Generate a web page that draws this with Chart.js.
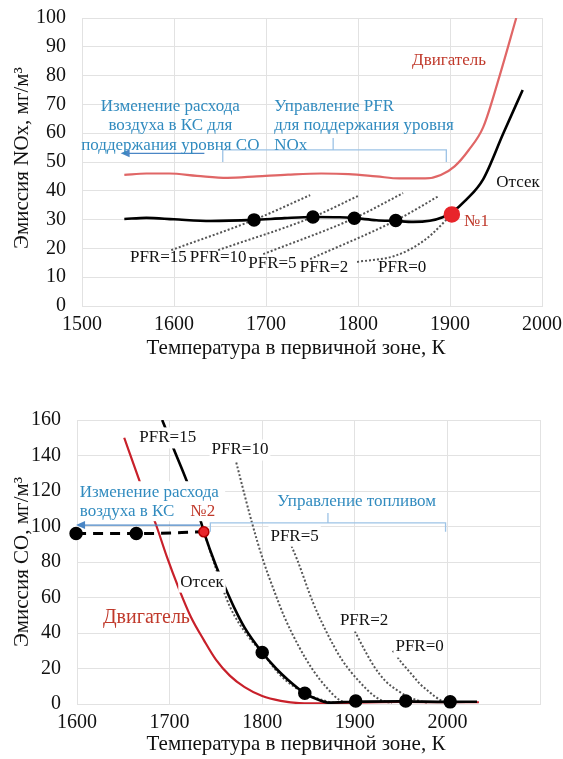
<!DOCTYPE html>
<html><head><meta charset="utf-8">
<script src="https://cdn.jsdelivr.net/npm/chart.js@4/dist/chart.umd.min.js"></script>
<style>
html,body{margin:0;padding:0;background:#fff;}
#wrap{position:relative;width:563px;height:759px;overflow:hidden;}
canvas{position:absolute;left:0;}
</style></head><body>
<div id="wrap">
<canvas id="c1" width="563" height="372" style="top:0"></canvas>
<canvas id="c2" width="563" height="387" style="top:372px"></canvas>
</div>
<script>
// ---------- DATA: top chart (NOx) ----------
const noxXTicks = [1500, 1600, 1700, 1800, 1900, 2000];
const noxYTicks = [0, 10, 20, 30, 40, 50, 60, 70, 80, 90, 100];
const noxEngine = [[1546,45.5],[1570,46],[1595,46],[1625,45.2],[1658,44.5],[1690,45],[1724,45.6],[1760,46],[1790,45.8],[1820,45],[1845,44.3],[1873,44.3],[1890,45.5],[1905,48.5],[1920,54],[1936,62],[1954,80],[1972,100]];
const noxSection = [[1546,30.2],[1570,30.6],[1600,30.1],[1640,29.5],[1687,29.9],[1720,30.5],[1751,30.9],[1780,30.8],[1796,30.5],[1820,29.8],[1841,29.5],[1860,29.2],[1878,29.6],[1892,30.8],[1902,32.5],[1918,37],[1936,44],[1958,60],[1979,75]];
const noxDots = [[1687,29.9],[1751,30.9],[1796,30.5],[1841,29.7]];
const noxPoint1 = [[1902,31.8]];
const noxPfr15 = [[1597,19.4],[1687,29.9],[1748,38.5]];
const noxPfr10 = [[1648,19.4],[1751,30.9],[1800,38.2]];
const noxPfr5 = [[1697,18],[1796,30.5],[1849,39.2]];
const noxPfr2 = [[1748,16.3],[1841,29.7],[1888,38.2]];
const noxPfr0 = [[1799,15.3],[1841,17.5],[1873,23],[1902,31.8]];

// ---------- DATA: bottom chart (CO) ----------
const coXTicks = [1600, 1700, 1800, 1900, 2000];
const coYTicks = [0, 20, 40, 60, 80, 100, 120, 140, 160];
const coEngine = [[1651,150],[1668,125],[1686,100],[1697,83],[1710,65],[1723,49],[1737,36],[1750,25],[1765,16],[1781,9.5],[1800,4.5],[1820,1.8],[1840,0.5],[1870,0.3],[1900,0.8],[1950,1.2],[2000,1],[2034,1]];
const coSection = [[1692,160],[1705,143],[1719,125],[1733,104],[1737,97],[1750,78],[1758,68],[1770,54],[1781,43],[1800,29],[1815,20],[1828,13.5],[1846,6],[1860,2.5],[1871,0.8],[1900,1.3],[1950,1.5],[2000,1.2],[2032,1.3]];
const coDots = [[1599,96],[1664,96],[1800,29],[1846,6],[1901,1.7],[1955,1.7],[2003,1.2]];
const coPoint2 = [[1737,97]];
const coDashed = [[1599,96],[1664,96],[1737,97]];
const coPfr15 = [[1737,97],[1747,81],[1765,55],[1785,38],[1800,29],[1820,16],[1846,6],[1870,1.5],[1880,0.5]];
const coPfr10 = [[1772,136],[1789,102],[1801,81],[1812,65],[1824,49],[1840,32],[1855,19],[1870,9],[1884,2],[1895,0.5]];
const coPfr5 = [[1830,91],[1838,81],[1855,57],[1870,40],[1886,25],[1906,12],[1920,5],[1929,2],[1940,0.5]];
const coPfr2 = [[1900,41],[1910,31],[1921,21],[1933,13],[1945,8],[1958,4],[1968,2],[1978,0.7]];
const coPfr0 = [[1941,30],[1951,23],[1961,17],[1970,11.5],[1980,7],[1993,2],[2000,0.8]];

// ---------- helpers ----------
const FONT = 'Liberation Serif';
const BLUE = '#318bbf';
const GRID = '#e2e2e2';
const pts = a => a.map(p => ({x: p[0], y: p[1]}));

function lineDs(data, color, width, dash, order) {
  return {data: pts(data), borderColor: color, borderWidth: width, borderDash: dash || [],
    pointRadius: 0, cubicInterpolationMode: 'monotone', fill: false, order: order || 5, showLine: true};
}
function dotDs(data, color, radius, border) {
  return {data: pts(data), showLine: false, pointRadius: radius, pointHoverRadius: radius, clip: false,
    pointBackgroundColor: color, pointBorderColor: border || color, pointBorderWidth: 1.5, order: 0};
}

function annotPlugin(cfg) {
  return {
    id: 'annot' + cfg.name,
    afterDatasetsDraw(chart) {
      const ctx = chart.ctx, xs = chart.scales.x, ys = chart.scales.y;
      const px = v => xs.getPixelForValue(v), py = v => ys.getPixelForValue(v);
      ctx.save();
      (cfg.boxes || []).forEach(b => {
        ctx.fillStyle = '#fff';
        ctx.fillRect(px(b[0]), py(b[2]), px(b[1]) - px(b[0]), py(b[3]) - py(b[2]));
      });
      (cfg.brackets || []).forEach(b => {
        ctx.strokeStyle = '#9dc3e6'; ctx.lineWidth = 1.3;
        ctx.beginPath();
        ctx.moveTo(px(b.x0), py(b.yEnd)); ctx.lineTo(px(b.x0), py(b.y));
        ctx.lineTo(px(b.x1), py(b.y)); ctx.lineTo(px(b.x1), py(b.yEnd));
        ctx.moveTo(px(b.xm), py(b.y)); ctx.lineTo(px(b.xm), py(b.yTip));
        ctx.stroke();
      });
      (cfg.arrows || []).forEach(a => {
        const x1 = px(a.x1), x2 = px(a.x2), y = py(a.y);
        ctx.strokeStyle = '#4a86c5'; ctx.fillStyle = '#4a86c5'; ctx.lineWidth = 1.3;
        ctx.beginPath(); ctx.moveTo(x1, y); ctx.lineTo(x2 + 6, y); ctx.stroke();
        ctx.beginPath(); ctx.moveTo(x2, y); ctx.lineTo(x2 + 9, y - 4); ctx.lineTo(x2 + 9, y + 4); ctx.closePath(); ctx.fill();
      });
      (cfg.texts || []).forEach(t => {
        ctx.font = t.size + 'px "' + FONT + '"';
        ctx.textAlign = t.align || 'center'; ctx.textBaseline = 'middle';
        const x = px(t.x), y = py(t.y);
        if (t.bg) {
          const w = ctx.measureText(t.text).width;
          const lx = (t.align === 'left') ? x : x - w / 2;
          ctx.fillStyle = '#fff';
          ctx.fillRect(lx - 2, y - t.size * 0.62, w + 4, t.size * 1.24);
        }
        ctx.fillStyle = t.color || '#000';
        ctx.fillText(t.text, x, y);
      });
      ctx.restore();
    },
    afterDraw(chart) {
      const ctx = chart.ctx;
      ctx.save();
      ctx.fillStyle = '#111';
      ctx.font = '21px "' + FONT + '"';
      ctx.textAlign = 'center'; ctx.textBaseline = 'middle';
      ctx.fillText(cfg.xTitle, cfg.xTitlePos[0], cfg.xTitlePos[1]);
      ctx.translate(cfg.yTitlePos[0], cfg.yTitlePos[1]);
      ctx.rotate(-Math.PI / 2);
      ctx.fillText(cfg.yTitle, 0, 0);
      ctx.restore();
    }
  };
}

function makeChart(id, H, area, xr, yr, xTicks, yTicks, datasets, plugin) {
  const tickFont = {family: FONT, size: 20, lineHeight: 1.1};
  const adj = {w: area.left, h: H - area.bottom};
  const opts = {
    responsive: false, animation: false, devicePixelRatio: 1,
    layout: {padding: {left: 0, top: area.top, right: 563 - area.right, bottom: 0}},
    plugins: {legend: {display: false}, tooltip: {enabled: false}},
    scales: {
      x: {type: 'linear', min: xr[0], max: xr[1],
        afterBuildTicks: s => { s.ticks = xTicks.concat([xr[1]]).filter((v,i,a)=>a.indexOf(v)===i).map(v => ({value: v})); },
        ticks: {font: tickFont, color: '#111', padding: 0, maxRotation: 0, autoSkip: false,
          callback: v => (xTicks.indexOf(v) >= 0 ? String(v) : '')},
        grid: {color: GRID, drawTicks: true, tickLength: 8, tickColor: 'rgba(0,0,0,0)', lineWidth: 1},
        border: {display: true, color: GRID},
        afterFit: s => { s.height = adj.h; }
      },
      y: {min: yr[0], max: yr[1],
        afterBuildTicks: s => { s.ticks = yTicks.map(v => ({value: v})); },
        ticks: {font: tickFont, color: '#111', padding: 0, autoSkip: false, callback: v => String(v)},
        grid: {color: GRID, drawTicks: true, tickLength: 16, tickColor: 'rgba(0,0,0,0)', lineWidth: 1},
        border: {display: true, color: GRID},
        afterFit: s => { s.width = adj.w; }
      }
    }
  };
  const ch = new Chart(document.getElementById(id), {type: 'line', data: {datasets}, options: opts, plugins: [plugin]});
  // pin the plot area to the measured reference geometry
  for (let k = 0; k < 3; k++) {
    const ca = ch.chartArea;
    opts.layout.padding.top += area.top - ca.top;
    opts.layout.padding.right += ca.right - area.right;
    adj.w += area.left - ca.left;
    adj.h += ca.bottom - area.bottom;
    ch.update();
  }
  return ch;
}

// ---------- top chart ----------
const DOT = '#555555';
makeChart('c1', 372, {left: 82, right: 542, top: 18, bottom: 306}, [1500, 2000], [0, 100], noxXTicks, noxYTicks, [
  dotDs(noxPoint1, '#e8252b', 7.5),
  dotDs(noxDots, '#000', 6),
  lineDs(noxSection, '#000', 2.6, [], 2),
  lineDs(noxEngine, '#e06666', 2.2, [], 3),
  lineDs(noxPfr15, DOT, 2, [2, 2], 4),
  lineDs(noxPfr10, DOT, 2, [2, 2], 4),
  lineDs(noxPfr5, DOT, 2, [2, 2], 4),
  lineDs(noxPfr2, DOT, 2, [2, 2], 4),
  lineDs(noxPfr0, DOT, 2, [2, 2], 4)
], annotPlugin({
  name: 'top',
  xTitle: 'Температура в первичной зоне, К', xTitlePos: [296, 348],
  yTitle: 'Эмиссия NOx, мг/м³', yTitlePos: [22, 158],
  brackets: [{x0: 1653, x1: 1896, xm: 1773, y: 54.2, yEnd: 50, yTip: 58.3}],
  arrows: [{x1: 1633, x2: 1542, y: 53}],
  texts: [
    {text: 'Изменение расхода', x: 1596, y: 69.4, size: 17, color: BLUE},
    {text: 'воздуха в КС для', x: 1596, y: 62.6, size: 17, color: BLUE},
    {text: 'поддержания уровня СО', x: 1596, y: 55.8, size: 17, color: BLUE},
    {text: 'Управление PFR', x: 1709, y: 69.4, size: 17, color: BLUE, align: 'left'},
    {text: 'для поддержания уровня', x: 1709, y: 62.6, size: 17, color: BLUE, align: 'left'},
    {text: 'NOx', x: 1709, y: 55.8, size: 17, color: BLUE, align: 'left'},
    {text: 'Двигатель', x: 1899, y: 85.4, size: 17, color: '#c0392b'},
    {text: 'Отсек', x: 1974, y: 43, size: 17, color: '#111'},
    {text: '№1', x: 1929, y: 29.2, size: 17, color: '#c0392b'},
    {text: 'PFR=15', x: 1583, y: 16.7, size: 17, color: '#111'},
    {text: 'PFR=10', x: 1648, y: 16.7, size: 17, color: '#111'},
    {text: 'PFR=5', x: 1707, y: 14.9, size: 17, color: '#111'},
    {text: 'PFR=2', x: 1763, y: 13.2, size: 17, color: '#111'},
    {text: 'PFR=0', x: 1848, y: 13.2, size: 17, color: '#111'}
  ]
}));

// ---------- bottom chart ----------
makeChart('c2', 387, {left: 77, right: 540, top: 48, bottom: 332}, [1600, 2100], [0, 160], coXTicks, coYTicks, [
  dotDs(coPoint2, '#e8252b', 5, '#b00000'),
  dotDs(coDots, '#000', 6),
  lineDs(coDashed, '#000', 3, [10, 7], 1),
  lineDs(coSection, '#000', 2.6, [], 2),
  lineDs(coEngine, '#c8202a', 2.2, [], 3),
  lineDs(coPfr15, DOT, 2, [2, 2], 4),
  lineDs(coPfr10, DOT, 2, [2, 2], 4),
  lineDs(coPfr5, DOT, 2, [2, 2], 4),
  lineDs(coPfr2, DOT, 2, [2, 2], 4),
  lineDs(coPfr0, DOT, 2, [2, 2], 4)
], annotPlugin({
  name: 'bottom',
  xTitle: 'Температура в первичной зоне, К', xTitlePos: [296, 372],
  yTitle: 'Эмиссия CO, мг/м³', yTitlePos: [22, 190],
  boxes: [[1601, 1760, 125.5, 103]],
  brackets: [{x0: 1744, x1: 1998, xm: 1871, y: 102, yEnd: 97, yTip: 107.6}],
  arrows: [{x1: 1733, x2: 1599, y: 100.8}],
  texts: [
    {text: 'Изменение расхода', x: 1603, y: 118.9, size: 17, color: BLUE, align: 'left'},
    {text: 'воздуха в КС', x: 1603, y: 108.2, size: 17, color: BLUE, align: 'left'},
    {text: '№2', x: 1736, y: 108.2, size: 17, color: '#c0392b'},
    {text: 'Управление топливом', x: 1902, y: 113.8, size: 17, color: BLUE},
    {text: 'PFR=15', x: 1698, y: 149.9, size: 17, color: '#111', bg: true},
    {text: 'PFR=10', x: 1776, y: 143.1, size: 17, color: '#111', bg: true},
    {text: 'PFR=5', x: 1835, y: 94.6, size: 17, color: '#111', bg: true},
    {text: 'Отсек', x: 1735, y: 68.7, size: 17, color: '#111', bg: true},
    {text: 'Двигатель', x: 1675, y: 48.5, size: 20, color: '#c0392b'},
    {text: 'PFR=2', x: 1910, y: 46.8, size: 17, color: '#111', bg: true},
    {text: 'PFR=0', x: 1970, y: 32.1, size: 17, color: '#111', bg: true}
  ]
}));
</script>
</body></html>
